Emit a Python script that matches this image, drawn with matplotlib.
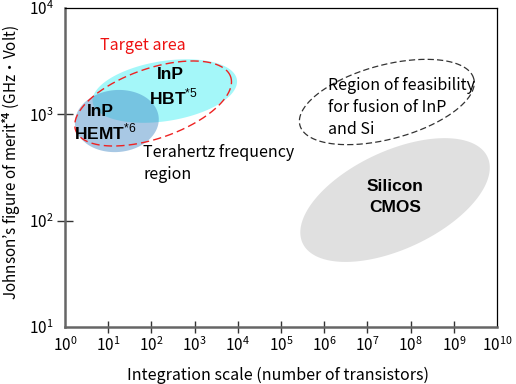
import numpy as np
import matplotlib
matplotlib.use("Agg")
import matplotlib.pyplot as plt

plt.rcParams['font.family'] = ['Noto Sans CJK JP', 'DejaVu Sans']
plt.rcParams['mathtext.fontset'] = 'custom'
plt.rcParams['mathtext.rm'] = 'Liberation Sans'
plt.rcParams['mathtext.bf'] = 'Liberation Sans:bold'

# ---- data ----
x_exponents = list(range(0, 11))
y_exponents = [1, 2, 3, 4]
x_label = "Integration scale (number of transistors)"
y_label = "Johnson\u2019s figure of merit$^{\\mathbf{*4}}$ (GHz\u30fbVolt)"

# regions: centre (x value, y value) on the log axes
region_names = ["Silicon CMOS", "Fusion", "InP HBT", "InP HEMT", "Target"]
region_cx = [10**7.64, 10**7.45, 10**2.31, 10**1.20, 10**2.04]
region_cy = [10**2.194, 10**3.116, 10**3.219, 10**2.937, 10**3.102]

# ---- figure ----
W, H, DPI = 516, 384, 100
fig = plt.figure(figsize=(W / DPI, H / DPI), dpi=DPI)
ax_l, ax_r, ax_b, ax_t = 65, 497, 327, 8
ax = fig.add_axes([ax_l / W, 1 - ax_b / H, (ax_r - ax_l) / W, (ax_b - ax_t) / H])
ax.set_xscale('log')
ax.set_yscale('log')
ax.set_xlim(1, 1e10)
ax.set_ylim(10, 1e4)

px_per_dec_x = (ax_r - ax_l) / 10.0
px_per_dec_y = (ax_b - ax_t) / 3.0

# ellipse shapes in pixels (semi-axes, angle)
shape_a = [102, 90, 73, 42, 82]
shape_b = [49, 37, 30, 31, 35]
shape_ang = [25, 15, 9, 5, 19]
styles = [
    dict(kind='fill', color='#e0e0e0', alpha=1.0, z=1),
    dict(kind='line', color='#333333', ls=(0, (5, 2.5)), lw=0.9, z=4),
    dict(kind='fill', color='#a4f7f9', alpha=1.0, z=1),
    dict(kind='fill', color='#3f86c4', alpha=0.45, z=2),
    dict(kind='line', color='#ee2222', ls=(0, (6, 3)), lw=1.0, z=4),
]

t = np.linspace(0, 2 * np.pi, 400)
for cx, cy, a, b, ang, st in zip(region_cx, region_cy, shape_a, shape_b, shape_ang, styles):
    th = np.deg2rad(ang)
    dx = a * np.cos(t) * np.cos(th) - b * np.sin(t) * np.sin(th)
    dy = a * np.cos(t) * np.sin(th) + b * np.sin(t) * np.cos(th)
    xs = 10 ** (np.log10(cx) + dx / px_per_dec_x)
    ys = 10 ** (np.log10(cy) + dy / px_per_dec_y)
    if st['kind'] == 'fill':
        ax.fill(xs, ys, color=st['color'], alpha=st['alpha'], lw=0, zorder=st['z'])
    else:
        ax.plot(xs, ys, color=st['color'], ls=st['ls'], lw=st['lw'], zorder=st['z'])

# texts
bold = dict(family='Liberation Sans', fontweight='bold', fontsize=12.5, color='black', zorder=5)
ax.text(10**2.45, 10**3.37, "InP", ha='center', va='center', **bold)
ax.text(10**2.50, 10**3.163, "HBT$^{*5}$", ha='center', va='center', **bold)
ax.text(10**0.81, 10**3.022, "InP", ha='center', va='center', **bold)
ax.text(10**0.93, 10**2.834, "HEMT$^{*6}$", ha='center', va='center', **bold)
ax.text(10**7.64, 10**2.317, "Silicon", ha='center', va='center',
        family='Liberation Sans', fontweight='bold', fontsize=12.5, zorder=5)
ax.text(10**7.64, 10**2.128, "CMOS", ha='center', va='center',
        family='Liberation Sans', fontweight='bold', fontsize=12.5, zorder=5)

ann = dict(fontsize=11.5, color='black', zorder=5)
ax.text(10**0.81, 10**3.643, "Target area", ha='left', va='center', color='#ee1111', fontsize=11.5, zorder=5)
ax.text(10**1.806, 10**2.64, "Terahertz frequency", ha='left', va='center', **ann)
ax.text(10**1.806, 10**2.435, "region", ha='left', va='center', **ann)
ax.text(10**6.09, 10**3.27, "Region of feasibility", ha='left', va='center', **ann)
ax.text(10**6.09, 10**3.065, "for fusion of InP", ha='left', va='center', **ann)
ax.text(10**6.09, 10**2.86, "and Si", ha='left', va='center', **ann)

# axes styling
for s in ['bottom', 'left']:
    ax.spines[s].set_color('#666666')
    ax.spines[s].set_linewidth(1.8)
for s in ['top', 'right']:
    ax.spines[s].set_color('black')
    ax.spines[s].set_linewidth(0.9)

ax.minorticks_off()
xt = [10.0**e for e in x_exponents]
yt = [10.0**e for e in y_exponents]
ax.set_xticks(xt)
ax.set_yticks(yt)
ax.set_xticklabels([r"$\mathregular{10^{%d}}$" % e for e in x_exponents], fontsize=11)
ax.set_yticklabels([r"$\mathregular{10^{%d}}$" % e for e in y_exponents], fontsize=11)
ax.tick_params(axis='x', direction='inout', length=8, width=1.0, color='#333333', pad=3)
ax.tick_params(axis='y', direction='inout', length=12, width=1.0, color='#333333', pad=2)
for i, tl in enumerate(ax.xaxis.get_major_ticks()):
    if i in (0, len(x_exponents) - 1):
        tl.tick1line.set_visible(False)
for i, tl in enumerate(ax.yaxis.get_major_ticks()):
    if i in (0, len(y_exponents) - 1):
        tl.tick1line.set_visible(False)

ax.set_xlabel(x_label, fontsize=11.5)
ax.xaxis.set_label_coords((278 - ax_l) / (ax_r - ax_l), -(375 - ax_b) / (ax_b - ax_t))
ax.set_ylabel(y_label, fontsize=11)
ax.yaxis.set_label_coords(-(ax_l - 12) / (ax_r - ax_l), (ax_b - 163) / (ax_b - ax_t))
ax.xaxis.label.set_va('center')
ax.yaxis.label.set_va('center')

fig.savefig("out.png", dpi=DPI)
